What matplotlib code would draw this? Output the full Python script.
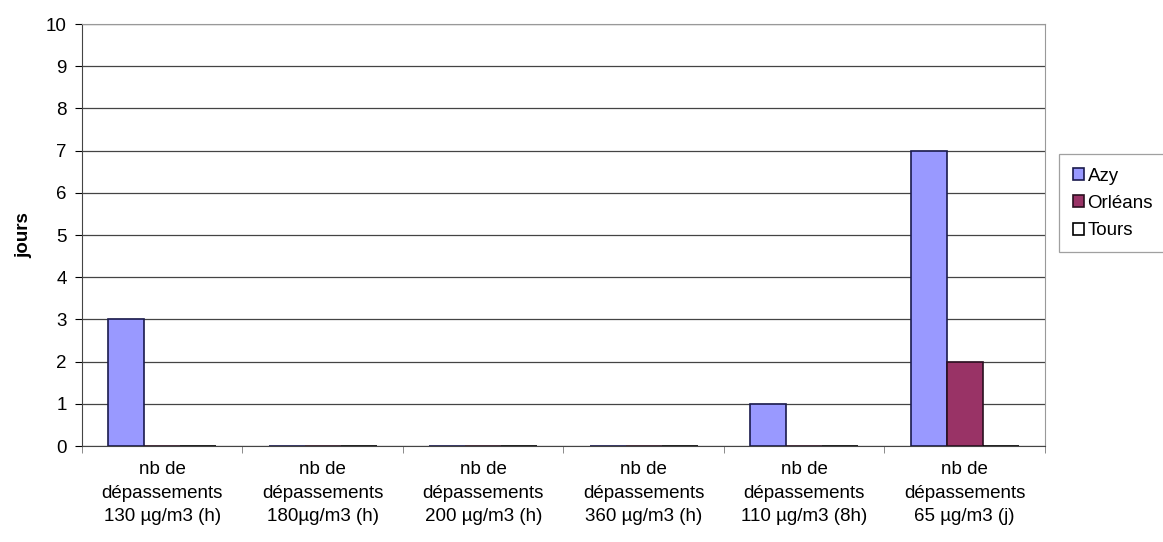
import numpy as np
import matplotlib
matplotlib.use("Agg")
import matplotlib.pyplot as plt

plt.rcParams['font.family'] = ['Liberation Sans', 'DejaVu Sans']

# data
categories = [
    "nb de\ndépassements\n130 µg/m3 (h)",
    "nb de\ndépassements\n180µg/m3 (h)",
    "nb de\ndépassements\n200 µg/m3 (h)",
    "nb de\ndépassements\n360 µg/m3 (h)",
    "nb de\ndépassements\n110 µg/m3 (8h)",
    "nb de\ndépassements\n65 µg/m3 (j)",
]
series_names = ["Azy", "Orléans", "Tours"]
azy = [3, 0, 0, 0, 1, 7]
orleans = [0, 0, 0, 0, 0, 2]
tours = [0, 0, 0, 0, 0, 0]
colors = ["#9999FF", "#993366", "#FFFFFF"]
edges = ["#1a1a4d", "#2a1020", "#000000"]

fig = plt.figure(figsize=(11.63, 5.42), dpi=100)
ax = fig.add_axes([0.0705, 0.177, 0.828, 0.7787])

x = np.arange(len(categories))
w = 0.225
for i, (vals, name) in enumerate(zip([azy, orleans, tours], series_names)):
    ax.bar(x + (i - 1) * w, vals, width=w, color=colors[i],
           edgecolor=edges[i], linewidth=1.2, label=name, zorder=3)

ax.set_xlim(-0.5, len(categories) - 0.5)
ax.set_ylim(0, 10)
ax.set_yticks(range(0, 11))
ax.tick_params(axis='y', labelsize=13.5, length=5, direction='out', pad=6)
ax.yaxis.grid(True, color="#444444", linewidth=0.9, zorder=0)

ax.set_xticks(x)
ax.set_xticklabels(categories, fontsize=13.5, linespacing=1.5)
ax.tick_params(axis='x', length=0, pad=11)
ax.set_xticks(np.arange(-0.5, len(categories), 1.0), minor=True)
ax.tick_params(axis='x', which='minor', length=5, color="#777777")

for side in ["top", "right"]:
    ax.spines[side].set_color("#999999")
ax.spines["left"].set_color("#444444")
ax.spines["bottom"].set_color("#444444")

ax.set_ylabel("jours", fontsize=13.5, fontweight='bold', labelpad=10)

leg = fig.legend(loc='upper left', bbox_to_anchor=(0.911, 0.715),
                 fontsize=13.5, frameon=True, fancybox=False,
                 handlelength=0.6, handleheight=0.6, handletextpad=0.2,
                 borderpad=0.7, labelspacing=0.55, borderaxespad=0)
leg.get_frame().set_edgecolor("#888888")
leg.get_frame().set_linewidth(0.9)

fig.savefig("out.png", dpi=100)
